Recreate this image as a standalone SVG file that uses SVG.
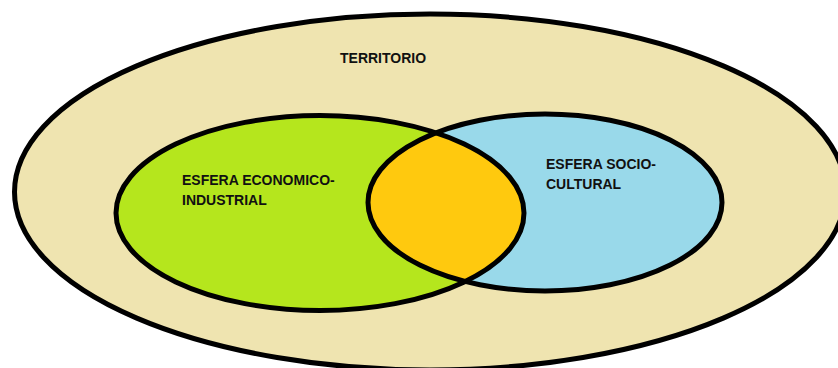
<svg xmlns="http://www.w3.org/2000/svg" width="838" height="368" viewBox="0 0 838 368">
  <style>
    .edge { fill: none; stroke: #000; stroke-width: 5; }
    .lbl { font-family: "Liberation Sans", Arial, sans-serif; font-weight: bold; font-size: 14px; fill: #111; }
  </style>
  <defs>
    <clipPath id="clipGreen">
      <ellipse cx="320" cy="213" rx="204" ry="97.5"/>
    </clipPath>
  </defs>
  <rect width="838" height="368" fill="#ffffff"/>
  <g id="territorio">
    <ellipse cx="430" cy="192" rx="415.5" ry="178" fill="#EFE4B0" class="edge" style="fill:#EFE4B0"/>
    <text class="lbl" x="340" y="62.5">TERRITORIO</text>
  </g>
  <g id="esfera-economico">
    <ellipse cx="320" cy="213" rx="204" ry="97.5" fill="#B5E61D"/>
  </g>
  <g id="esfera-socio">
    <ellipse cx="545" cy="202.5" rx="177" ry="88.5" fill="#99D9EA"/>
  </g>
  <g id="interseccion">
    <ellipse cx="545" cy="202.5" rx="177" ry="88.5" fill="#FFC90E" clip-path="url(#clipGreen)"/>
  </g>
  <g id="outlines">
    <ellipse class="edge" cx="320" cy="213" rx="204" ry="97.5"/>
    <ellipse class="edge" cx="545" cy="202.5" rx="177" ry="88.5"/>
  </g>
  <g id="labels">
    <text class="lbl" x="182" y="185">ESFERA ECONOMICO-</text>
    <text class="lbl" x="182" y="204.5">INDUSTRIAL</text>
    <text class="lbl" x="546" y="169.3">ESFERA SOCIO-</text>
    <text class="lbl" x="546" y="189.3">CULTURAL</text>
  </g>
</svg>
